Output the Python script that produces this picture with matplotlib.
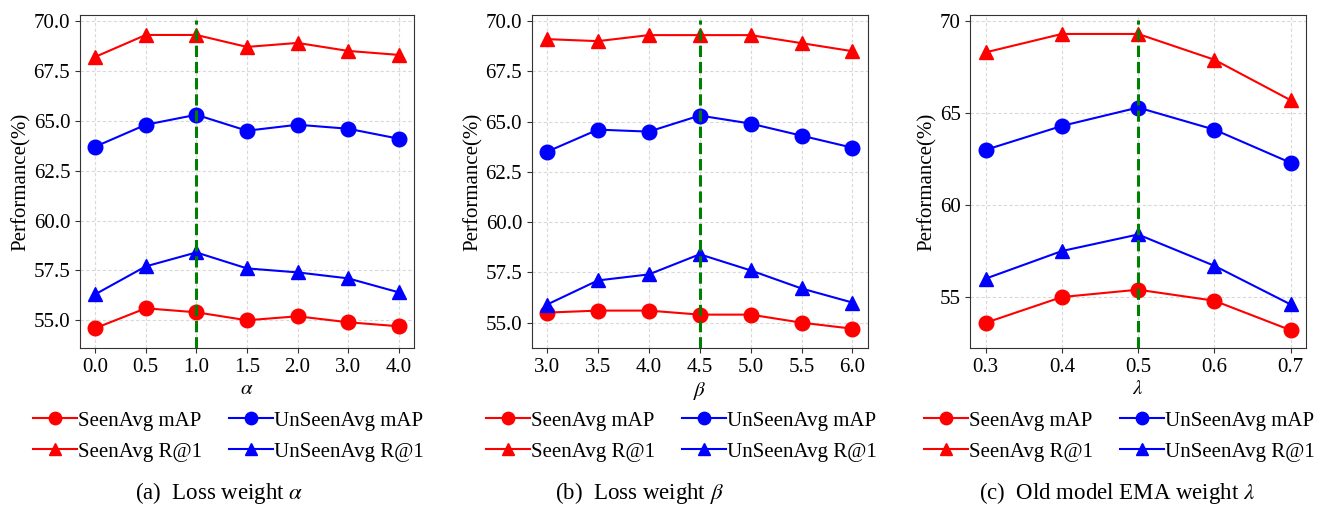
import matplotlib
matplotlib.use("Agg")
import matplotlib.pyplot as plt

plt.rcParams["font.family"] = ["Liberation Serif", "DejaVu Serif"]
plt.rcParams["mathtext.fontset"] = "stix"

# panel (a): loss weight alpha (categorical positions)
alpha_labels = ["0.0", "0.5", "1.0", "1.5", "2.0", "3.0", "4.0"]
a_seen_map = [54.6, 55.6, 55.4, 55.0, 55.2, 54.9, 54.7]
a_unseen_map = [63.7, 64.8, 65.3, 64.5, 64.8, 64.6, 64.1]
a_seen_r1 = [68.2, 69.3, 69.3, 68.7, 68.9, 68.5, 68.3]
a_unseen_r1 = [56.3, 57.7, 58.4, 57.6, 57.4, 57.1, 56.4]

# panel (b): loss weight beta
beta = [3.0, 3.5, 4.0, 4.5, 5.0, 5.5, 6.0]
b_seen_map = [55.5, 55.6, 55.6, 55.4, 55.4, 55.0, 54.7]
b_unseen_map = [63.5, 64.6, 64.5, 65.3, 64.9, 64.3, 63.7]
b_seen_r1 = [69.1, 69.0, 69.3, 69.3, 69.3, 68.9, 68.5]
b_unseen_r1 = [55.9, 57.1, 57.4, 58.4, 57.6, 56.7, 56.0]

# panel (c): old model EMA weight lambda
lam = [0.3, 0.4, 0.5, 0.6, 0.7]
c_seen_map = [53.6, 55.0, 55.4, 54.8, 53.2]
c_unseen_map = [63.0, 64.3, 65.3, 64.1, 62.3]
c_seen_r1 = [68.3, 69.3, 69.3, 67.9, 65.7]
c_unseen_r1 = [56.0, 57.5, 58.4, 56.7, 54.6]

FS = 15

fig = plt.figure(figsize=(13.28, 5.12), dpi=100)
ax_a = fig.add_axes([0.0602, 0.3203, 0.2515, 0.6504])
ax_b = fig.add_axes([0.4004, 0.3203, 0.2530, 0.6504])
ax_c = fig.add_axes([0.7307, 0.3203, 0.2526, 0.6504])


def draw(ax, x, sm, um, sr, ur, best, xlab, ylim, yticks, ytl):
    # order chosen so the 2-column legend reads mAP row, then R@1 row
    ax.plot(x, sm, "-o", color="red", lw=1.5, ms=10.5, label="SeenAvg mAP", zorder=3)
    ax.plot(x, sr, "-^", color="red", lw=1.5, ms=10.5, label="SeenAvg R@1", zorder=3)
    ax.plot(x, um, "-o", color="blue", lw=1.5, ms=10.5, label="UnSeenAvg mAP", zorder=3)
    ax.plot(x, ur, "-^", color="blue", lw=1.5, ms=10.5, label="UnSeenAvg R@1", zorder=3)
    ax.axvline(best, ymin=0, ymax=0.985, color="green", ls="--", lw=2.2, zorder=4)
    ax.set_ylim(*ylim)
    ax.set_yticks(yticks)
    ax.set_yticklabels(ytl, fontsize=FS)
    ax.set_xlabel(xlab, fontsize=FS, labelpad=2)
    ax.set_ylabel("Performance(%)", fontsize=FS, labelpad=2)
    ax.grid(True, ls=(0, (3, 2)), color="#d9d9d9", lw=0.8)
    ax.set_axisbelow(True)
    for s in ax.spines.values():
        s.set_color("#333333")
    ax.tick_params(labelsize=FS, colors="#333333", labelcolor="black")
    ax.legend(loc="center", bbox_to_anchor=(0.445, -0.265), ncol=2, frameon=False,
              fontsize=FS, handlelength=2.1, handletextpad=0.05, columnspacing=1.3,
              labelspacing=0.55, borderaxespad=0, markerscale=0.85)


yt1 = [55.0, 57.5, 60.0, 62.5, 65.0, 67.5, 70.0]
ytl1 = ["%.1f" % v for v in yt1]
xa = list(range(len(alpha_labels)))
draw(ax_a, xa, a_seen_map, a_unseen_map, a_seen_r1, a_unseen_r1, 2,
     r"$\alpha$", (53.61, 70.3), yt1, ytl1)
ax_a.set_xticks(xa)
ax_a.set_xticklabels(alpha_labels)

draw(ax_b, beta, b_seen_map, b_unseen_map, b_seen_r1, b_unseen_r1, 4.5,
     r"$\beta$", (53.74, 70.3), yt1, ytl1)
ax_b.set_xticks(beta)
ax_b.set_xticklabels(["%.1f" % v for v in beta])

yt3 = [55, 60, 65, 70]
draw(ax_c, lam, c_seen_map, c_unseen_map, c_seen_r1, c_unseen_r1, 0.5,
     r"$\lambda$", (52.23, 70.33), yt3, [str(v) for v in yt3])
ax_c.set_xticks(lam)
ax_c.set_xticklabels(["%.1f" % v for v in lam])

CFS = 16.5
fig.text(219 / 1328, 0.012, r"(a)  Loss weight $\alpha$", ha="center", va="bottom", fontsize=CFS)
fig.text(639 / 1328, 0.012, r"(b)  Loss weight $\beta$", ha="center", va="bottom", fontsize=CFS)
fig.text(1117 / 1328, 0.012, r"(c)  Old model EMA weight $\lambda$", ha="center", va="bottom", fontsize=CFS)

fig.savefig("out.png", dpi=100)
